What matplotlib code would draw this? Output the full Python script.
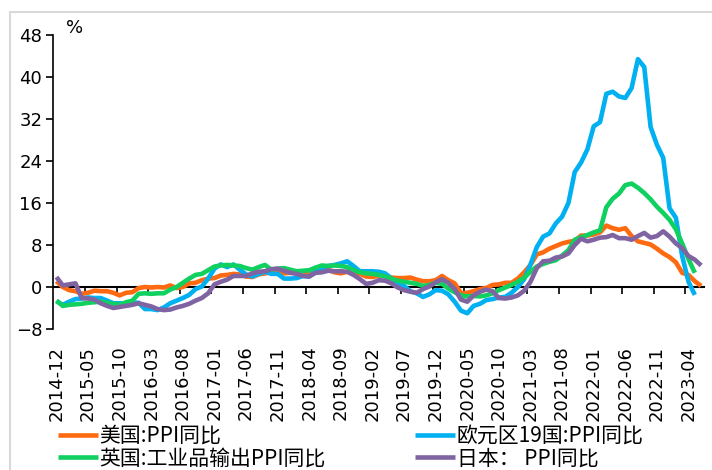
import numpy as np
import pandas as pd
import matplotlib
matplotlib.use('Agg')
import matplotlib.pyplot as plt
from matplotlib.patches import Rectangle

# monthly PPI year-on-year, %, Dec 2014 .. Jun 2023
months = pd.period_range('2014-12', '2023-06', freq='M').strftime('%Y-%m').tolist()

us_ppi = [1.1,
          0.0, -0.6, -0.8, -1.3, -1.1, -0.7, -0.8, -0.8, -1.1, -1.6, -1.1, -1.0,
          -0.2, 0.0, -0.1, 0.0, -0.1, 0.3, -0.2, 0.0, 0.7, 0.8, 1.3, 1.6,
          1.7, 2.2, 2.3, 2.5, 2.4, 2.0, 1.9, 2.4, 2.6, 2.8, 3.1, 2.6,
          2.7, 2.8, 3.0, 2.6, 3.1, 3.4, 3.3, 2.8, 2.6, 2.9, 2.5, 2.5,
          2.0, 1.9, 2.2, 2.2, 1.8, 1.7, 1.7, 1.8, 1.4, 1.1, 1.1, 1.3,
          2.1, 1.3, 0.7, -1.2, -1.1, -0.8, -0.4, -0.2, 0.4, 0.5, 0.8, 0.8,
          1.6, 2.8, 4.2, 6.2, 6.6, 7.3, 7.8, 8.3, 8.6, 8.8, 9.8, 9.8,
          10.0, 10.4, 11.7, 11.2, 10.9, 11.2, 9.7, 8.7, 8.4, 8.1, 7.3, 6.4,
          5.7, 4.7, 2.7, 2.3, 1.1, 0.2]

ez_ppi = [-2.7,
          -3.4, -2.8, -2.3, -2.2, -2.0, -2.1, -2.1, -2.6, -3.1, -3.1, -3.2, -3.0,
          -3.0, -4.2, -4.2, -4.4, -3.9, -3.1, -2.6, -2.1, -1.5, -0.4, 0.1, 1.6,
          3.5, 4.3, 3.8, 4.3, 3.3, 2.4, 2.0, 2.5, 2.9, 2.5, 2.5, 1.6,
          1.6, 1.7, 2.1, 2.0, 3.0, 3.6, 4.0, 4.2, 4.5, 4.9, 4.0, 3.0,
          3.0, 3.0, 2.9, 2.6, 1.6, 0.7, 0.2, -0.8, -1.2, -1.9, -1.4, -0.6,
          -0.7, -1.4, -2.8, -4.5, -5.0, -3.6, -3.2, -2.5, -2.3, -2.0, -1.9, -1.1,
          0.0, 1.5, 4.3, 7.6, 9.6, 10.2, 12.1, 13.4, 16.0, 21.9, 23.7, 26.2,
          30.6, 31.4, 36.8, 37.2, 36.3, 36.0, 37.9, 43.4, 41.9, 30.5, 27.1, 24.6,
          15.0, 13.2, 5.9, 1.0, -1.5, np.nan]

uk_ppi = [-2.6,
          -3.6, -3.4, -3.3, -3.2, -3.0, -2.9, -2.8, -3.0, -3.2, -3.4, -2.9, -2.6,
          -1.3, -1.2, -1.3, -1.2, -1.2, -0.5, 0.0, 0.8, 1.6, 2.3, 2.5, 3.2,
          3.9, 4.1, 4.2, 4.1, 4.0, 3.6, 3.3, 3.8, 4.2, 3.3, 3.5, 3.6,
          3.3, 3.0, 3.1, 3.2, 3.7, 4.1, 4.0, 4.1, 4.0, 3.8, 3.2, 2.8,
          2.6, 2.5, 2.3, 2.0, 1.6, 1.2, 1.0, 0.8, 0.6, 0.2, 0.4, 0.8,
          0.6, -0.3, -1.0, -1.6, -1.8, -1.7, -1.8, -1.6, -1.2, -0.6, -0.1, 0.4,
          1.0, 1.8, 2.9, 3.9, 4.4, 4.8, 5.1, 6.0, 7.0, 9.0, 9.5, 9.9,
          10.4, 10.8, 15.2, 16.8, 17.8, 19.4, 19.7, 18.9, 17.9, 16.7, 15.3, 14.1,
          12.8, 11.0, 8.3, 5.3, 2.7, np.nan]

jp_ppi = [1.9,
          0.3, 0.5, 0.7, -2.1, -2.2, -2.4, -3.1, -3.6, -4.0, -3.8, -3.6, -3.4,
          -3.1, -3.4, -3.7, -4.2, -4.4, -4.3, -3.9, -3.6, -3.2, -2.6, -2.1, -1.2,
          0.5, 1.0, 1.4, 2.1, 2.1, 2.1, 2.6, 2.9, 3.0, 3.4, 3.5, 3.1,
          2.7, 2.5, 2.1, 2.0, 2.7, 2.8, 3.1, 3.0, 3.0, 2.9, 2.3, 1.5,
          0.6, 0.8, 1.3, 1.2, 0.7, -0.1, -0.6, -0.9, -1.1, -0.4, 0.1, 0.9,
          1.5, 0.8, -0.4, -2.4, -2.8, -1.6, -0.9, -0.5, -0.8, -2.1, -2.2, -2.0,
          -1.6, -0.7, 1.0, 3.6, 4.9, 5.0, 5.6, 5.8, 6.4, 8.0, 9.2, 8.7,
          9.0, 9.4, 9.5, 9.9, 9.3, 9.3, 9.0, 9.7, 10.3, 9.4, 9.7, 10.6,
          9.6, 8.3, 7.4, 5.9, 5.2, 4.1]

names = ['美国:PPI同比', '欧元区19国:PPI同比', '英国:工业品输出PPI同比', '日本： PPI同比']
colors = ['#FF6A10', '#00B0F0', '#10D060', '#8064A2']
y_ticks = [-8, 0, 8, 16, 24, 32, 40, 48]

plt.rcParams['font.family'] = ['DejaVu Sans', 'Noto Sans CJK SC']

W, H = 712, 470
fig = plt.figure(figsize=(W / 100, H / 100), dpi=100)
ax = fig.add_axes([53.3 / W, 1 - 329 / H, 651 / W, 294 / H])

x = np.arange(len(months))
handles = []
for vals, c in zip([us_ppi, ez_ppi, uk_ppi, jp_ppi], colors):
    ln, = ax.plot(x, vals, color=c, lw=3.3, solid_joinstyle='round', solid_capstyle='butt')
    handles.append(ln)

ax.set_xlim(-0.5, len(months) - 0.5)
ax.set_ylim(-8, 48)
ax.set_yticks(y_ticks)
ax.tick_params(axis='y', labelsize=13, length=5, width=1.2, direction='out', pad=3)
for s in ['top', 'right', 'bottom']:
    ax.spines[s].set_visible(False)
ax.spines['left'].set_linewidth(1.2)

# date labels sit at the bottom, every 5th month
lab_pos = x[::5]
ax.set_xticks(lab_pos)
ax.set_xticklabels([months[i] for i in lab_pos], rotation=90, fontsize=13)
ax.tick_params(axis='x', length=0, pad=12)

# zero line with its own tick marks between months
zero = ax.secondary_xaxis(8 / 56)
zero.set_xticks(np.arange(4.5, len(months) - 1, 5))
zero.set_xticklabels([])
zero.tick_params(length=5, width=1.2, direction='out')
zero.spines['bottom'].set_linewidth(1.5)

fig.text(75 / W, 1 - 33 / H, '%', fontsize=13, ha='center', va='baseline')

leg_font = {'family': ['Noto Sans CJK SC', 'DejaVu Sans'], 'size': 15}
for cols, xa in [((0, 2), 58), ((1, 3), 415)]:
    fig.legend([handles[k] for k in cols], [names[k] for k in cols],
               loc='upper left', bbox_to_anchor=(xa / W, 1 - 425 / H),
               frameon=False, prop=leg_font, handlelength=1.9,
               handletextpad=0.1, borderpad=0, borderaxespad=0,
               labelspacing=0.03)

fig.add_artist(Rectangle((10 / W, -0.1), 1.2, 1.1 - 12 / H, transform=fig.transFigure,
                         fill=False, edgecolor='#D9D9D9', lw=1.5))

fig.savefig('out.png', dpi=100)
